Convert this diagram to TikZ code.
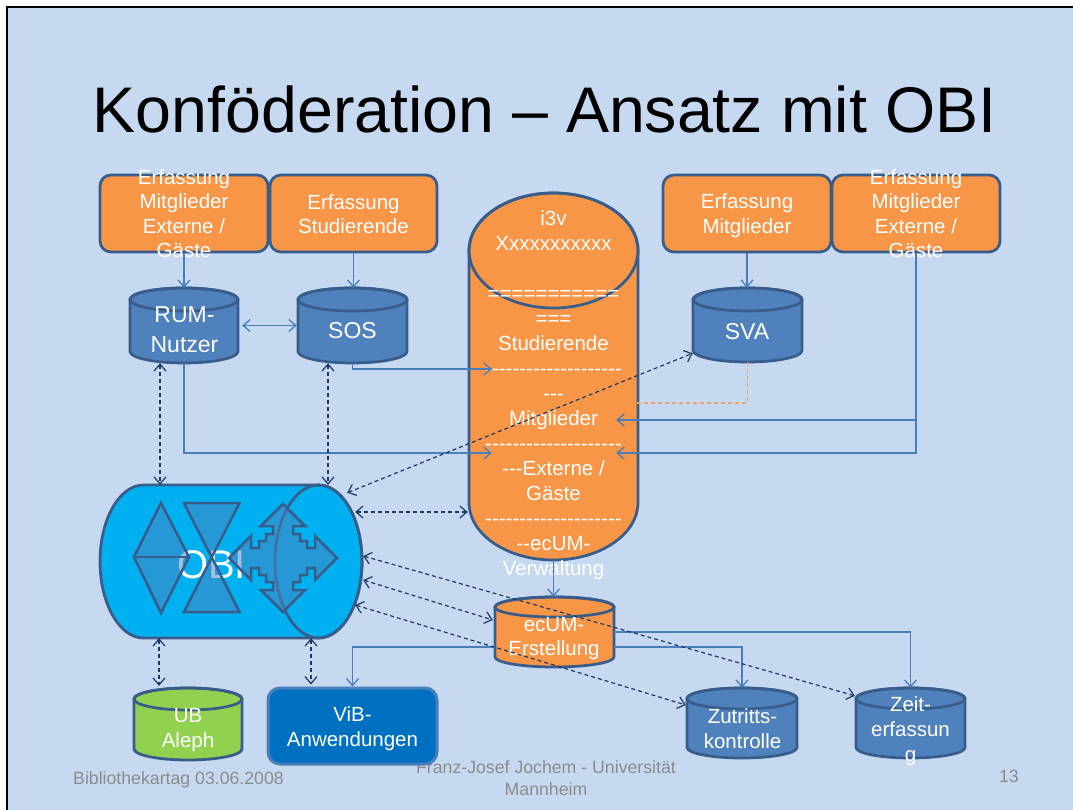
\documentclass[tikz,border=0pt]{standalone}
\usepackage{fontspec}
\setmainfont{Liberation Sans}
% a family without TeX ligatures, so that runs of hyphens stay hyphens
\newfontfamily\arl{Liberation Sans}
\usetikzlibrary{arrows.meta,calc}

\definecolor{slidebg}{HTML}{C6D9F1}
\definecolor{erforange}{HTML}{F79646}
\definecolor{edgeblue}{HTML}{385D8A}
\definecolor{dbblue}{HTML}{4F81BD}
\definecolor{obicyan}{HTML}{00B0F0}
\definecolor{alephgreen}{HTML}{92D050}
\definecolor{vibblue}{HTML}{0070C0}
\definecolor{vibedge}{HTML}{4A7EBB}
\definecolor{linkblue}{HTML}{4A7EBB}
\definecolor{navy}{HTML}{1F3864}
\definecolor{footgray}{HTML}{8C8C8C}
\definecolor{fadedorange}{HTML}{E8A470}

\newcommand\fs[2]{\fontsize{#1}{#2}\selectfont}

% upright database cylinder: name, left, top, right, bottom, cap radius, fill
\newcommand\dbcyl[7]{%
  \filldraw[fill=#7,shapeedge] (#2,#3+#6) -- (#2,#5-#6)
     arc[start angle=180,end angle=0,x radius={(#4-#2)/2},y radius=#6]
     -- (#4,#3+#6)
     arc[start angle=0,end angle=-180,x radius={(#4-#2)/2},y radius=#6] -- cycle;
  \draw[shapeedge] ({(#2+#4)/2},#3+#6) ellipse[x radius={(#4-#2)/2},y radius=#6];
  \node[inner sep=0pt,minimum width={(#4-#2)*1pt},minimum height={(#5-#3)*1pt}]
     (#1) at ({(#2+#4)/2},{(#3+#5)/2}) {};
}

\begin{document}
\begin{tikzpicture}[x=1pt,y=-1pt,
  >={Straight Barb[length=7pt,width=12pt]},
  shapeedge/.style={draw=edgeblue,line width=2.75pt},
  erfbox/.style={draw=edgeblue,line width=2.75pt,fill=erforange,rounded corners=11pt,
    minimum width=168pt,minimum height=77pt,inner sep=0pt},
  vibbox/.style={draw=vibedge,line width=3pt,fill=vibblue,rounded corners=12pt,
    minimum width=169pt,minimum height=76pt,inner sep=0pt},
  wtext/.style={text=white,align=center,inner sep=0pt,font=\arl\fs{20.5}{24.5}},
  bigtext/.style={text=white,align=center,inner sep=0pt,font=\arl\fs{23}{29.4}},
  foot/.style={text=footgray,inner sep=0pt,font=\arl\fs{17.7}{22}},
  link/.style={draw=linkblue,line width=1.3pt},
  odash/.style={draw=fadedorange,line width=1.3pt,dash pattern=on 4pt off 3pt},
  dlink/.style={draw=navy,line width=1.2pt,dash pattern=on 4pt off 3pt,<->},
  icon/.style={draw=edgeblue,line width=2.5pt,fill=dbblue,fill opacity=0.5},
]
\useasboundingbox (0,0) rectangle (1073,810);
\clip (0,0) rectangle (1073,810);

% slide
\fill[white] (0,0) rectangle (1073,810);
\draw[fill=slidebg,draw=black,line width=1.5pt] (7,7) rectangle (1100,840);

% title and footer
\node[inner sep=0pt,font=\arl\fs{64.5}{70},anchor=base] (title) at (544.5,133)
  {Konföderation – Ansatz mit OBI};
\node[foot,anchor=base west] (date) at (73,784) {Bibliothekartag 03.06.2008};
\node[foot,align=center] (author) at (546,778.5) {Franz-Josef Jochem - Universität\\Mannheim};
\node[foot,anchor=base east] (pageno) at (1019,782) {13};

% capture boxes
\node[erfbox] (b1) at (184,213.5) {};
\node[erfbox,minimum width=167pt] (b2) at (353.5,213.5) {};
\node[erfbox] (b3) at (747,213.5) {};
\node[erfbox] (b4) at (916,213.5) {};
\node[vibbox] (vib) at (352.5,726) {};

% databases
\dbcyl{i3v}{469}{193}{638}{560}{57.5}{erforange}
\dbcyl{rum}{130}{288}{238}{363}{11.5}{dbblue}
\dbcyl{sos}{298}{288}{407}{363}{11.5}{dbblue}
\dbcyl{sva}{693}{288}{802}{362}{11.5}{dbblue}
\dbcyl{ecum}{495}{597}{614}{667}{10}{erforange}
\dbcyl{zut}{687}{688}{797}{758}{10.5}{dbblue}
\dbcyl{zeit}{856}{688}{965}{758}{10.5}{dbblue}
\dbcyl{aleph}{134}{688}{242}{760}{11}{alephgreen}

% OBI bus (lying cylinder)
\filldraw[fill=obicyan,shapeedge] (143.5,485) -- (318.5,485)
  arc[start angle=-90,end angle=90,x radius=43.5,y radius=76.5]
  -- (143.5,638)
  arc[start angle=90,end angle=270,x radius=43.5,y radius=76.5] -- cycle;
\draw[shapeedge] (318.5,561.5) ellipse[x radius=43.5,y radius=76.5];
\node[inner sep=0pt,minimum width=262pt,minimum height=153pt] (obi) at (231,561.5) {};
\node[text=white,inner sep=0pt,font=\arl\fs{40}{48},anchor=base] (obitxt) at (211.5,578) {OBI};

% OBI symbols: diamond, hourglass, four-way arrow
\filldraw[icon] (161,503) -- (189,557) -- (161,613) -- (134,557) -- cycle;
\draw[draw=edgeblue,line width=2.5pt] (134,557) -- (189,557);
\filldraw[icon] (184,503) -- (239.5,503) -- (211.7,557.3) -- cycle;
\filldraw[icon] (211.7,557.3) -- (184,612) -- (239.5,612) -- cycle;
\filldraw[icon,shift={(283,558)}]
  (0,-54) -- (-22,-32) -- (-10,-32) -- (-10,-24) -- (-17,-24) -- (-17,-17)
  -- (-24,-17) -- (-24,-10) -- (-32,-10) -- (-32,-22) -- (-54,0)
  -- (-32,22) -- (-32,10) -- (-24,10) -- (-24,17) -- (-17,17) -- (-17,24)
  -- (-10,24) -- (-10,32) -- (-22,32) -- (0,54)
  -- (22,32) -- (10,32) -- (10,24) -- (17,24) -- (17,17) -- (24,17)
  -- (24,10) -- (32,10) -- (32,22) -- (54,0)
  -- (32,-22) -- (32,-10) -- (24,-10) -- (24,-17) -- (17,-17) -- (17,-24)
  -- (10,-24) -- (10,-32) -- (22,-32) -- cycle;

% box and database labels
\node[wtext] (b1t) at (184,213.5) {Erfassung\\Mitglieder\\Externe /\\Gäste};
\node[wtext] (b2t) at (353.5,214) {Erfassung\\Studierende};
\node[wtext] (b3t) at (747,215.5) {Erfassung\\Mitglieder};
\node[wtext] (b4t) at (916,213.5) {Erfassung\\Mitglieder\\Externe /\\Gäste};
\node[wtext] (vibt) at (352.5,728.8) {ViB-\\Anwendungen};
\node[bigtext] (rumt) at (184.5,329.8) {RUM-\\Nutzer};
\node[bigtext,anchor=base] (sost) at (352.5,338) {SOS};
\node[bigtext,anchor=base] (svat) at (747,339) {SVA};
\node[wtext] (ecumt) at (554,638.8) {ecUM-\\Erstellung};
\node[wtext,font=\arl\fs{20.5}{25}] (zutt) at (742.5,728.4) {Zutritts-\\kontrolle};
\node[wtext,font=\arl\fs{20.5}{25}] (zeitt) at (910.5,731.6) {Zeit-\\erfassun\\g};
\node[wtext,font=\arl\fs{20.5}{25}] (alepht) at (188,730.3) {UB\\Aleph};
\node[wtext,font=\arl\fs{20.5}{25}] (i3vt) at (553.5,394.7)
  {i3v\\Xxxxxxxxxxx\\[25pt]===========\\===\\Studierende\\--------------------\\---\\
   Mitglieder\\--------------------\\---Externe /\\Gäste\\--------------------\\
   --ecUM-\\Verwaltung};

% feeds into the databases
\coordinate (inStud) at ($(i3v.west)+(23,-7.5)$);
\coordinate (inExtL) at ($(i3v.west)+(23,76.5)$);
\coordinate (inMitR) at ($(i3v.east)+(-22,43.5)$);
\coordinate (inExtR) at ($(i3v.east)+(-22,76.5)$);
\coordinate (sideR) at ($(i3v.east)+(-1,26.5)$);

\draw[link,->] (b1.south) -- (rum.north);
\draw[link,->] (b2.south) -- (b2.south |- sos.north);
\draw[link,->] (b3.south) -- (b3.south |- sva.north);
\draw[link,<->] ([xshift=4pt]rum.east) -- ([xshift=-1pt]sos.west);
\draw[link,->] (sos.south) |- (inStud);
\draw[link,->] (rum.south) |- (inExtL);
\draw[link,->] (b4.south) |- (inExtR);
\draw[link,->] (b4.south |- inMitR) -- (inMitR);
\draw[odash] (sva.south) |- (sideR);
\draw[link,->] (i3v.south) -- (i3v.south |- ecum.north);
\draw[link,->] (ecum.east) -| (zeit.north);
\draw[link,->] ([yshift=-15pt]ecum.east) -| (zut.north);
\draw[link,->] ([yshift=-15pt]ecum.west) -| (vib.north);

% OBI exchange
\draw[dlink] ([xshift=-24pt]rum.south) -- ([xshift=-24pt]rum.south |- obi.north);
\draw[dlink] ([xshift=-24.5pt]sos.south) -- ([xshift=-24.5pt]sos.south |- obi.north);
\draw[dlink] ($(obi.north east)+(-15,8)$) -- ($(sva.south west)+(0,-9)$);
\draw[dlink] ($(obi.east)+(-7,-49.5)$) -- ($(i3v.west)+(-1,135.5)$);
\draw[dlink] ($(obi.east)+(1,-5.5)$) -- ($(zeit.north west)+(-1,8)$);
\draw[dlink] ($(obi.east)+(1,18.5)$) -- ($(ecum.west)+(-2,-12)$);
\draw[dlink] ($(obi.east)+(-7,43.5)$) -- ($(zut.west)+(-1,-18)$);
\draw[dlink] ([xshift=-72pt]obi.south) -- ([xshift=-29pt,yshift=2pt]aleph.north);
\draw[dlink] ([xshift=80pt]obi.south) -- ([xshift=-41.5pt,yshift=2pt]vib.north);
\end{tikzpicture}
\end{document}
